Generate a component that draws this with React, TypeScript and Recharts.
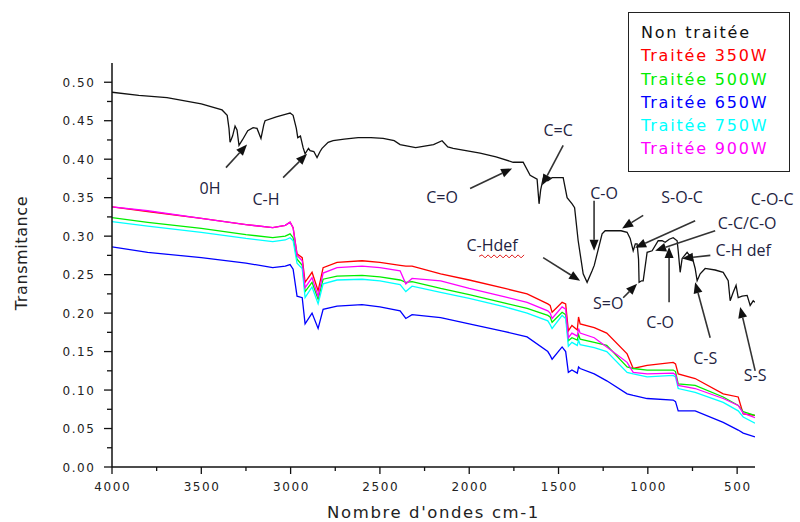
import React from 'react';
import { LineChart, Line, XAxis, YAxis, Legend, ReferenceLine, ReferenceDot } from 'recharts';

// untreated sample, wavenumber (cm-1) / transmittance
const rawWavenumbers = [
  4000, 3850, 3692, 3500, 3384, 3355, 3345, 3339, 3325, 3311, 3300, 3289, 3270, 3240, 3210, 3188, 3166, 3150,
  3143, 3080, 3020, 3003, 2986, 2968, 2960, 2945, 2930, 2919, 2900, 2891, 2870, 2852, 2835, 2824, 2790, 2762,
  2700, 2622, 2550, 2482, 2420, 2387, 2300, 2200, 2152, 2120, 2090, 1939, 1850, 1754, 1698, 1659, 1620, 1609,
  1600, 1586, 1560, 1536, 1474, 1452, 1424, 1410, 1390, 1362, 1340, 1312, 1300, 1284, 1256, 1239, 1194, 1150,
  1116, 1099, 1082, 1070, 1060, 1052, 1049, 1035, 1026, 1004, 976, 942, 920, 903, 880, 858, 836, 830, 819, 808,
  780, 770, 752, 735, 724, 707, 679, 623, 578, 550, 539, 522, 506, 494, 472, 444, 427, 410, 400,
];
const rawValues = [
  0.487, 0.483, 0.48, 0.472, 0.464, 0.457, 0.44, 0.422, 0.43, 0.443, 0.438, 0.418, 0.425, 0.437, 0.441, 0.44, 0.427, 0.445,
  0.45, 0.455, 0.459, 0.46, 0.457, 0.44, 0.428, 0.43, 0.415, 0.407, 0.414, 0.411, 0.41, 0.402, 0.41, 0.414, 0.422, 0.424,
  0.426, 0.428, 0.428, 0.427, 0.424, 0.419, 0.415, 0.419, 0.424, 0.416, 0.414, 0.408, 0.403, 0.396, 0.396, 0.379, 0.374, 0.342,
  0.36, 0.375, 0.372, 0.376, 0.376, 0.35, 0.342, 0.337, 0.294, 0.251, 0.24, 0.255, 0.262, 0.277, 0.303, 0.307, 0.307, 0.307,
  0.305, 0.297, 0.281, 0.29, 0.29, 0.27, 0.24, 0.242, 0.242, 0.279, 0.281, 0.294, 0.294, 0.292, 0.296, 0.298, 0.294, 0.281, 0.253, 0.271,
  0.279, 0.276, 0.273, 0.258, 0.242, 0.251, 0.258, 0.256, 0.253, 0.242, 0.216, 0.227, 0.236, 0.22, 0.222, 0.223, 0.21, 0.216, 0.214,
];

// treated samples share one wavenumber grid
const wavenumbers = [
  4000, 3800, 3500, 3250, 3100, 3030, 3003, 2986, 2964, 2935, 2919, 2880, 2846, 2818, 2740, 2600, 2500, 2387, 2355, 2320,
  2160, 2000, 1800, 1676, 1560, 1547, 1536, 1480, 1460, 1445, 1425, 1395, 1388, 1379, 1300, 1230, 1116, 1082, 1004, 858,
  845, 830, 735, 578, 494, 466, 400,
];
const treated350 = [
  0.338, 0.332, 0.323, 0.315, 0.311, 0.314, 0.318, 0.311, 0.277, 0.272, 0.24, 0.253, 0.229, 0.259, 0.266, 0.268, 0.266, 0.262, 0.261, 0.261,
  0.251, 0.243, 0.232, 0.225, 0.212, 0.21, 0.201, 0.214, 0.212, 0.177, 0.184, 0.178, 0.195, 0.186, 0.181, 0.174, 0.147, 0.128, 0.132, 0.136,
  0.134, 0.121, 0.115, 0.095, 0.091, 0.069, 0.067,
];
const treated500 = [
  0.324, 0.318, 0.31, 0.302, 0.298, 0.3, 0.303, 0.298, 0.27, 0.262, 0.228, 0.24, 0.218, 0.244, 0.248, 0.249, 0.247, 0.243, 0.24, 0.241,
  0.232, 0.224, 0.213, 0.206, 0.197, 0.195, 0.188, 0.201, 0.198, 0.164, 0.168, 0.165, 0.172, 0.166, 0.162, 0.158, 0.13, 0.128, 0.126, 0.126,
  0.124, 0.108, 0.106, 0.091, 0.08, 0.072, 0.067,
];
const treated650 = [
  0.286, 0.279, 0.272, 0.265, 0.259, 0.261, 0.263, 0.257, 0.222, 0.22, 0.186, 0.2, 0.18, 0.205, 0.209, 0.211, 0.208, 0.203, 0.193, 0.198,
  0.194, 0.186, 0.176, 0.169, 0.15, 0.145, 0.14, 0.156, 0.15, 0.123, 0.126, 0.122, 0.13, 0.128, 0.121, 0.112, 0.095, 0.093, 0.089, 0.087,
  0.085, 0.073, 0.073, 0.058, 0.048, 0.044, 0.039,
];
const treated750 = [
  0.319, 0.313, 0.305, 0.297, 0.293, 0.295, 0.298, 0.294, 0.265, 0.258, 0.22, 0.234, 0.212, 0.238, 0.243, 0.244, 0.242, 0.237, 0.228, 0.235,
  0.227, 0.219, 0.208, 0.2, 0.19, 0.185, 0.18, 0.197, 0.193, 0.157, 0.162, 0.158, 0.165, 0.159, 0.155, 0.15, 0.123, 0.121, 0.117, 0.119,
  0.117, 0.102, 0.097, 0.084, 0.073, 0.065, 0.057,
];
const treated900 = [
  0.338, 0.333, 0.323, 0.315, 0.311, 0.314, 0.318, 0.311, 0.275, 0.268, 0.233, 0.246, 0.222, 0.252, 0.259, 0.261, 0.259, 0.255, 0.238, 0.245,
  0.242, 0.232, 0.221, 0.214, 0.203, 0.2, 0.193, 0.208, 0.205, 0.168, 0.174, 0.17, 0.18, 0.174, 0.168, 0.156, 0.136, 0.123, 0.121, 0.122,
  0.12, 0.106, 0.102, 0.089, 0.08, 0.07, 0.064,
];

const xTicks = [4000, 3750, 3500, 3250, 3000, 2750, 2500, 2250, 2000, 1750, 1500, 1250, 1000, 750, 500];
const xTickLabels = ['4000', '', '3500', '', '3000', '', '2500', '', '2000', '', '1500', '', '1000', '', '500'];
const yTicks = [0, 0.025, 0.05, 0.075, 0.1, 0.125, 0.15, 0.175, 0.2, 0.225, 0.25, 0.275, 0.3, 0.325, 0.35, 0.375, 0.4, 0.425, 0.45, 0.475, 0.5];
const yTickLabels = ['0.00', '', '0.05', '', '0.10', '', '0.15', '', '0.20', '', '0.25', '', '0.30', '', '0.35', '', '0.40', '', '0.45', '', '0.50'];

// band assignments: arrow tail -> head, in chart units
const arrows = [
  { from: [3362, 0.389], to: [3244, 0.419] },
  { from: [3042, 0.376], to: [2908, 0.407] },
  { from: [1995, 0.362], to: [1760, 0.388] },
  { from: [1474, 0.418], to: [1592, 0.366] },
  { from: [1301, 0.346], to: [1301, 0.281] },
  { from: [1026, 0.327], to: [1144, 0.31] },
  { from: [735, 0.32], to: [1071, 0.285] },
  { from: [623, 0.307], to: [959, 0.281] },
  { from: [650, 0.275], to: [808, 0.271] },
  { from: [1586, 0.272], to: [1379, 0.242] },
  { from: [1138, 0.22], to: [1060, 0.238] },
  { from: [881, 0.214], to: [881, 0.286] },
  { from: [651, 0.168], to: [735, 0.24] },
  { from: [399, 0.125], to: [483, 0.208] },
];
const bandLabels = [
  { text: '0H', w: 3451, v: 0.362 },
  { text: 'C-H', w: 3138, v: 0.347 },
  { text: 'C=O', w: 2152, v: 0.35 },
  { text: 'C=C', w: 1502, v: 0.437 },
  { text: 'C-O', w: 1245, v: 0.355 },
  { text: 'S-O-C', w: 808, v: 0.35 },
  { text: 'C-O-C', w: 304, v: 0.347 },
  { text: 'C-C/C-O', w: 444, v: 0.316 },
  { text: 'C-H def', w: 466, v: 0.281 },
  { text: 'C-Hdef', w: 1872, v: 0.288, wavy: true },
  { text: 'S=O', w: 1222, v: 0.212 },
  { text: 'C-O', w: 931, v: 0.188 },
  { text: 'C-S', w: 679, v: 0.141 },
  { text: 'S-S', w: 399, v: 0.119 },
];

const rawData = rawWavenumbers.map((w, i) => ({ w, v: rawValues[i] }));
const toSeries = (vals: number[]) => wavenumbers.map((w, i) => ({ w, v: vals[i] }));

const series = [
  { name: 'Traitée 350W', color: '#ff0000', data: toSeries(treated350) },
  { name: 'Traitée 500W', color: '#00ee00', data: toSeries(treated500) },
  { name: 'Traitée 650W', color: '#0000ff', data: toSeries(treated650) },
  { name: 'Traitée 750W', color: '#00ffff', data: toSeries(treated750) },
  { name: 'Traitée 900W', color: '#ff00ff', data: toSeries(treated900) },
];

const FONT = 'DejaVu Sans, Verdana, sans-serif';
const LABEL_FONT = 'Open Sans, Noto Sans, sans-serif';
const Y_TICK_MARGIN = 18;
const X_TICK_MARGIN = 12;

function YTick(props: any) {
  const { x, y, payload } = props;
  const label = yTickLabels[yTicks.indexOf(payload.value)];
  const ax = x + Y_TICK_MARGIN;
  return (
    <g>
      <line x1={ax - (label ? 8 : 5)} x2={ax} y1={y} y2={y} stroke="#111" strokeWidth={1.3} />
      {label && (
        <text x={x + 1.6} y={y} dy={4.5} textAnchor="end" fontSize={12} letterSpacing={1.6} fill="#222" fontFamily={FONT}>
          {label}
        </text>
      )}
    </g>
  );
}

function XTick(props: any) {
  const { x, y, payload } = props;
  const label = xTickLabels[xTicks.indexOf(payload.value)];
  const ay = y - X_TICK_MARGIN;
  return (
    <g>
      <line x1={x} x2={x} y1={ay} y2={ay + (label ? 7 : 4)} stroke="#111" strokeWidth={1.3} />
      {label && (
        <text x={x} dx={0.8} y={ay + 24} textAnchor="middle" fontSize={12} letterSpacing={1.6} fill="#222" fontFamily={FONT}>
          {label}
        </text>
      )}
    </g>
  );
}

function Arrow(props: any) {
  const { x1, y1, x2, y2 } = props;
  const len = Math.hypot(x2 - x1, y2 - y1) || 1;
  const ux = (x2 - x1) / len;
  const uy = (y2 - y1) / len;
  const bx = x2 - ux * 11;
  const by = y2 - uy * 11;
  const pts = `${x2},${y2} ${bx - uy * 4.5},${by + ux * 4.5} ${bx + uy * 4.5},${by - ux * 4.5}`;
  return (
    <g>
      <line x1={x1} y1={y1} x2={bx} y2={by} stroke="#333" strokeWidth={1.6} />
      <polygon points={pts} fill="#111" />
    </g>
  );
}

function bandLabel(text: string, wavy?: boolean) {
  return (p: any) => {
    const vb = p.viewBox || {};
    const cx = vb.x + (vb.width || 0) / 2;
    const cy = vb.y + (vb.height || 0) / 2;
    let wave = '';
    if (wavy) {
      const x0 = cx - 13;
      const yy = cy + 11;
      wave = `M${x0},${yy}`;
      for (let i = 1; i <= 15; i++) wave += ` L${x0 + i * 3},${yy + (i % 2 ? -1.5 : 1.5)}`;
    }
    return (
      <g>
        <text x={cx} y={cy} dy={5.5} textAnchor="middle" fontSize={16} fill="#23233f" fontFamily={LABEL_FONT}>
          {text}
        </text>
        {wavy && <path d={wave} stroke="#e02020" strokeWidth={1} fill="none" />}
      </g>
    );
  };
}

function LegendBox(props: any) {
  const { payload = [] } = props;
  return (
    <div
      style={{
        border: '1.5px solid #222',
        background: '#fff',
        width: 162,
        height: 160,
        boxSizing: 'border-box',
        padding: '8px 0 0 12px',
        fontFamily: FONT,
        fontSize: 16,
        letterSpacing: 1.8,
        textAlign: 'left',
      }}
    >
      {payload.map((p: any) => (
        <div key={p.value} style={{ color: p.color, lineHeight: '23.3px', whiteSpace: 'nowrap' }}>
          {p.value}
        </div>
      ))}
    </div>
  );
}

export default function App() {
  return (
    <div style={{ position: 'absolute', left: 0, top: 0, width: 800, height: 522, background: '#fff', fontFamily: FONT }}>
      <LineChart width={800} height={522} margin={{ top: 63, right: 45, bottom: 0, left: 0 }}>
        <XAxis
          type="number"
          dataKey="w"
          domain={[400, 4000]}
          reversed
          allowDataOverflow
          ticks={xTicks}
          interval={0}
          height={55}
          tickSize={0}
          tickMargin={X_TICK_MARGIN}
          tickLine={false}
          tick={<XTick />}
          axisLine={{ stroke: '#111', strokeWidth: 1.5 }}
          label={{
            content: (p: any) => {
              const vb = p.viewBox || { x: 112, y: 467, width: 643 };
              return (
                <text x={vb.x + vb.width / 2} y={vb.y + 51} textAnchor="middle" fontSize={16.5} letterSpacing={1.6} fill="#222" fontFamily={FONT}>
                  Nombre d'ondes cm-1
                </text>
              );
            },
          }}
        />
        <YAxis
          type="number"
          domain={[0, 0.525]}
          allowDataOverflow
          ticks={yTicks}
          interval={0}
          width={112}
          tickSize={0}
          tickMargin={Y_TICK_MARGIN}
          tickLine={false}
          tick={<YTick />}
          axisLine={{ stroke: '#111', strokeWidth: 1.5 }}
          label={{
            content: (p: any) => {
              const vb = p.viewBox || { x: 0, y: 63, height: 404 };
              const cx = vb.x + 21;
              const cy = vb.y + vb.height / 2 - 12;
              return (
                <text x={cx} y={cy} dy={6} transform={`rotate(-90, ${cx}, ${cy})`} textAnchor="middle" fontSize={16} letterSpacing={0.6} fill="#222" fontFamily={FONT}>
                  Transmitance
                </text>
              );
            },
          }}
        />
        <Legend layout="vertical" align="center" verticalAlign="middle" content={<LegendBox />} wrapperStyle={{ position: 'absolute', left: 628, top: 12, width: 162 }} />
        <Line data={rawData} dataKey="v" name="Non traitée" stroke="#111" strokeWidth={1.3} dot={false} isAnimationActive={false} />
        {series.map((s) => (
          <Line key={s.name} data={s.data} dataKey="v" name={s.name} stroke={s.color} strokeWidth={1.3} dot={false} isAnimationActive={false} />
        ))}
        {arrows.map((a, i) => (
          <ReferenceLine
            key={`a${i}`}
            segment={[{ x: a.from[0], y: a.from[1] }, { x: a.to[0], y: a.to[1] }]}
            ifOverflow="visible"
            shape={Arrow}
          />
        ))}
        {bandLabels.map((b, i) => (
          <ReferenceDot key={`l${i}`} x={b.w} y={b.v} r={0} stroke="none" fill="none" ifOverflow="visible" label={{ content: bandLabel(b.text, b.wavy) }} />
        ))}
      </LineChart>
    </div>
  );
}
